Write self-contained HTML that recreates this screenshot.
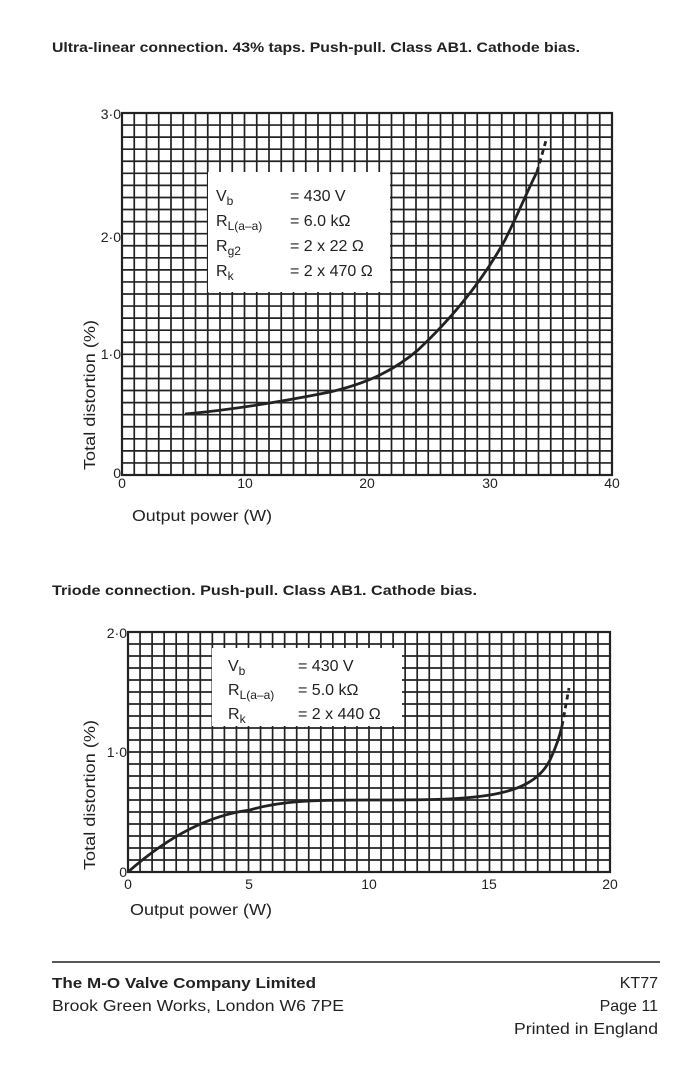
<!DOCTYPE html>
<html><head><style>
body{margin:0;background:#fff;}
svg{display:block}
text{font-family:"Liberation Sans",sans-serif;fill:#222}
</style></head><body>
<svg width="698" height="1068" viewBox="0 0 698 1068" xmlns="http://www.w3.org/2000/svg">
<text x="52" y="52" font-size="14" font-weight="bold" textLength="528" lengthAdjust="spacingAndGlyphs">Ultra-linear connection. 43% taps. Push-pull. Class AB1. Cathode bias.</text>
<rect x="122" y="113" width="490" height="362" fill="none" stroke="#222" stroke-width="2.2"/>
<g stroke="#222" stroke-width="1.7" fill="none" id="grid1"></g>
<rect x="208" y="172" width="182" height="120" fill="#fff"/>
<g font-size="16">
<text x="216" y="201">V<tspan font-size="12" dy="4">b</tspan></text><text x="290" y="201">= 430 V</text>
<text x="216" y="226">R<tspan font-size="12" dy="4">L(a–a)</tspan></text><text x="290" y="226">= 6.0 kΩ</text>
<text x="216" y="251">R<tspan font-size="12" dy="4">g2</tspan></text><text x="290" y="251">= 2 x 22 Ω</text>
<text x="216" y="276">R<tspan font-size="12" dy="4">k</tspan></text><text x="290" y="276">= 2 x 470 Ω</text>
</g>
<path d="M185,414 C230,410 280,402 330,392 C360,385 390,374 418,350 C450,320 480,285 505,240 C520,210 530,185 537,172" fill="none" stroke="#222" stroke-width="2.8"/>
<path d="M537,172 L547,137" fill="none" stroke="#222" stroke-width="2.8" stroke-dasharray="5,4"/>
<g font-size="14" text-anchor="end">
<text x="121" y="119">3·0</text><text x="121" y="242">2·0</text><text x="121" y="359">1·0</text><text x="121" y="478">0</text>
</g>
<g font-size="14" text-anchor="middle">
<text x="122" y="488">0</text><text x="245" y="488">10</text><text x="367" y="488">20</text><text x="490" y="488">30</text><text x="612" y="488">40</text>
</g>
<text x="95" y="470" font-size="16" transform="rotate(-90 95 470)" textLength="150" lengthAdjust="spacingAndGlyphs">Total distortion (%)</text>
<text x="132" y="521" font-size="16" textLength="140" lengthAdjust="spacingAndGlyphs">Output power (W)</text>

<text x="52" y="595" font-size="14" font-weight="bold" textLength="425" lengthAdjust="spacingAndGlyphs">Triode connection. Push-pull. Class AB1. Cathode bias.</text>
<rect x="128" y="632" width="482" height="240" fill="none" stroke="#222" stroke-width="2.2"/>
<g stroke="#222" stroke-width="1.7" fill="none" id="grid2"></g>
<rect x="212" y="648" width="190" height="78" fill="#fff"/>
<g font-size="16">
<text x="228" y="671">V<tspan font-size="12" dy="4">b</tspan></text><text x="298" y="671">= 430 V</text>
<text x="228" y="695">R<tspan font-size="12" dy="4">L(a–a)</tspan></text><text x="298" y="695">= 5.0 kΩ</text>
<text x="228" y="719">R<tspan font-size="12" dy="4">k</tspan></text><text x="298" y="719">= 2 x 440 Ω</text>
</g>
<path d="M128,872 C170,835 210,815 250,810 C280,801 310,800 370,800 C420,800 460,800 490,795 C520,790 540,780 550,760 C557,745 560,735 562,726" fill="none" stroke="#222" stroke-width="2.8"/>
<path d="M562,726 L569,688" fill="none" stroke="#222" stroke-width="2.8" stroke-dasharray="5,4"/>
<g font-size="14" text-anchor="end">
<text x="127" y="638">2·0</text><text x="127" y="757">1·0</text><text x="127" y="877">0</text>
</g>
<g font-size="14" text-anchor="middle">
<text x="128" y="889">0</text><text x="249" y="889">5</text><text x="369" y="889">10</text><text x="489" y="889">15</text><text x="610" y="889">20</text>
</g>
<text x="95" y="870" font-size="16" transform="rotate(-90 95 870)" textLength="150" lengthAdjust="spacingAndGlyphs">Total distortion (%)</text>
<text x="130" y="915" font-size="16" textLength="142" lengthAdjust="spacingAndGlyphs">Output power (W)</text>

<line x1="52" y1="962" x2="660" y2="962" stroke="#222" stroke-width="1.5"/>
<text x="52" y="988" font-size="15" font-weight="bold" textLength="264" lengthAdjust="spacingAndGlyphs">The M-O Valve Company Limited</text>
<text x="52" y="1011" font-size="16" textLength="292" lengthAdjust="spacingAndGlyphs">Brook Green Works, London W6 7PE</text>
<text x="658" y="988" font-size="16" text-anchor="end">KT77</text>
<text x="658" y="1011" font-size="16" text-anchor="end">Page 11</text>
<text x="658" y="1034" font-size="16" text-anchor="end" textLength="144" lengthAdjust="spacingAndGlyphs">Printed in England</text>
</svg>
<script>
function grid(id,x0,y0,w,h,nx,ny){
 var g=document.getElementById(id),s='';
 for(var i=1;i<nx;i++){var x=x0+w*i/nx;s+='<line x1="'+x+'" y1="'+y0+'" x2="'+x+'" y2="'+(y0+h)+'"/>';}
 for(var j=1;j<ny;j++){var y=y0+h*j/ny;s+='<line x1="'+x0+'" y1="'+y+'" x2="'+(x0+w)+'" y2="'+y+'"/>';}
 g.innerHTML=s;
}
grid('grid1',122,113,490,362,40,30);
grid('grid2',128,632,482,240,40,20);
</script>
</body></html>
